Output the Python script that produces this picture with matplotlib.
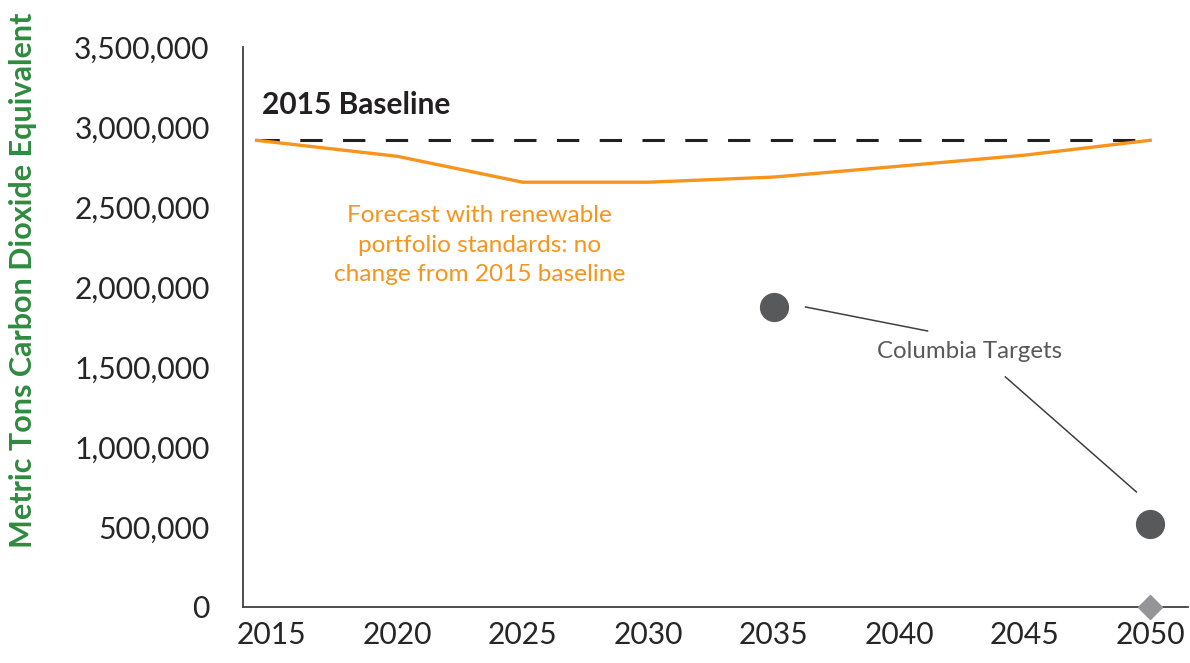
import numpy as np
import matplotlib
matplotlib.use('Agg')
import matplotlib.pyplot as plt
from matplotlib.ticker import FuncFormatter

plt.rcParams['font.family'] = ['Lato', 'DejaVu Sans']

# data
years = [2015, 2020, 2025, 2030, 2035, 2040, 2045, 2050]
forecast_years = [2014.4, 2020, 2025, 2030, 2035, 2040, 2045, 2050]
forecast = [2917000, 2817000, 2655000, 2655000, 2687000, 2755000, 2824000, 2917000]
baseline_years = [2014.4, 2050]
baseline = [2917000, 2917000]
target_years = [2035, 2050]
targets = [1875000, 519000]
zero_year = [2050]
zero_value = [0]

orange = '#F7941D'
dark = '#58595B'
green = '#2E8B3E'

fig = plt.figure(figsize=(11.9, 6.63), dpi=100)
ax = fig.add_axes([0.2042, 0.0845, 0.794, 0.8446])

ax.plot(baseline_years, baseline, color='#231F20', lw=2.2,
        linestyle=(0, (7.3, 6.7)), zorder=2)
ax.plot(forecast_years, forecast, color=orange, lw=2.4, zorder=3)
ax.plot(target_years, targets, 'o', ms=20, color=dark, linestyle='none', zorder=4)
ax.plot(zero_year, zero_value, 'D', ms=12, color='#939598',
        clip_on=False, zorder=5)

ax.set_xlim(2013.86, 2051.5)
ax.set_ylim(0, 3500000)
ax.set_xticks(years)
ax.set_xticklabels([str(y) for y in years])
ax.set_yticks(np.arange(0, 3500001, 500000))
ax.yaxis.set_major_formatter(FuncFormatter(lambda v, p: '{:,.0f}'.format(v)))
ax.tick_params(axis='both', length=0, labelsize=21.6, colors='#262626')
ax.tick_params(axis='y', pad=24)
ax.tick_params(axis='x', pad=10)
for s in ['top', 'right']:
    ax.spines[s].set_visible(False)
for s in ['left', 'bottom']:
    ax.spines[s].set_color('#404040')
    ax.spines[s].set_linewidth(1.3)

ax.set_ylabel('Metric Tons Carbon Dioxide Equivalent', color=green,
              fontsize=22, fontweight='bold')
ax.yaxis.set_label_coords(-0.218, 0.584)

ax.text(2014.6, 3140000, '2015 Baseline', fontsize=21.5, fontweight='bold',
        color='#231F20', va='center', ha='left')
ax.text(2023.3, 2262000, 'Forecast with renewable\nportfolio standards: no\nchange from 2015 baseline',
        fontsize=17.6, color=orange, ha='center', va='center', linespacing=1.5)

ax.text(2042.8, 1594000, 'Columbia Targets', fontsize=17.3, color='#595959',
        ha='center', va='center')
ax.plot([2036.27, 2041.13], [1875000, 1725000], color='#404040', lw=1.1)
ax.plot([2044.23, 2049.45], [1438000, 719000], color='#404040', lw=1.1)

fig.savefig('out.png', dpi=100)
